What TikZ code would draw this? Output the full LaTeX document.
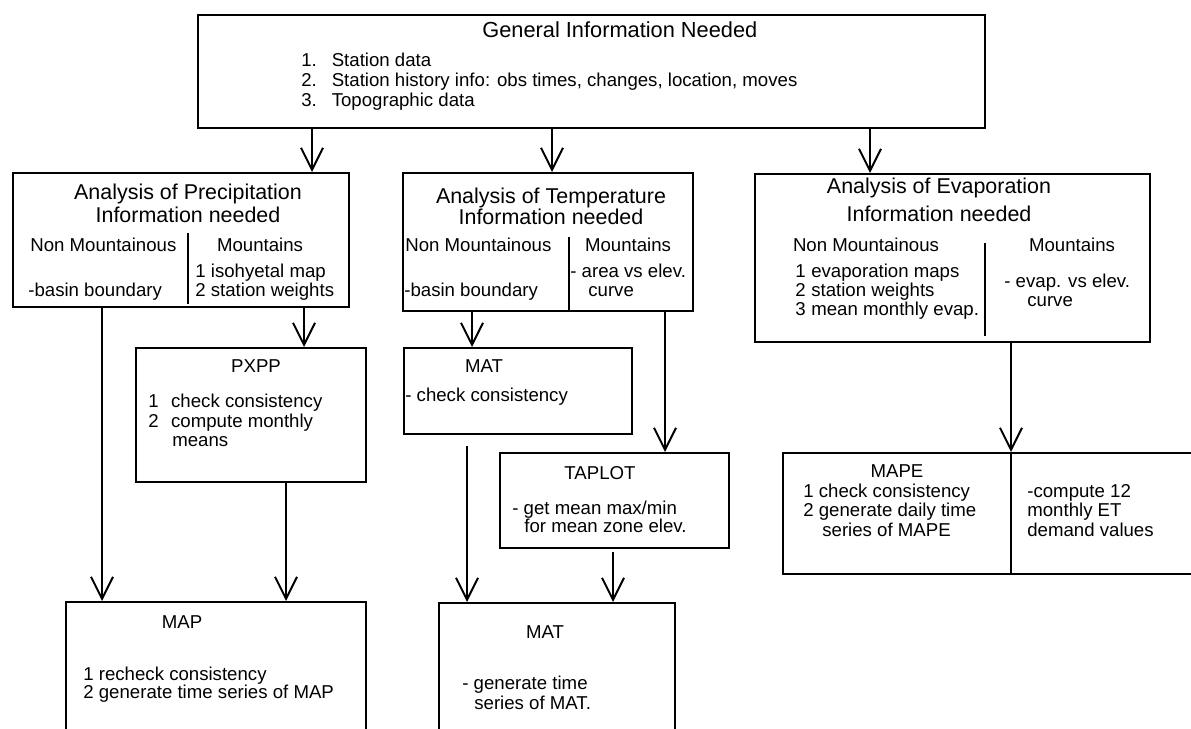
\documentclass[tikz,border=0pt]{standalone}
\usepackage{fontspec}
\setmainfont{Liberation Sans}
\usetikzlibrary{arrows.meta,positioning}
\tikzstyle{box}=[draw, line width=1pt, inner sep=0pt, anchor=north west]
\tikzstyle{txt}=[inner sep=0pt, anchor=base west, font=\fontsize{10.6}{12}\selectfont]
\tikzstyle{ttl}=[inner sep=0pt, anchor=base, font=\fontsize{12.2}{14}\selectfont]
\tikzstyle{arr}=[line width=1.1pt, -{Straight Barb[length=4.4mm,width=4.4mm]}]
\tikzstyle{divider}=[line width=0.6pt]
% box from (x1,y1) to (x2,y2), pixel units
\newcommand{\procbox}[5]{
	\node[box, minimum width={(#4-#2)*0.2mm}, minimum height={(#5-#3)*0.2mm}] (#1) at (#2,#3) {};
}

\begin{document}
\begin{tikzpicture}[x=0.2mm, y=-0.2mm]
	\clip (0,0) rectangle (1191,729);
	% boxes
	\procbox{gen}{197}{14}{984}{127}
	\procbox{prec}{12}{172}{348}{306}
	\procbox{temp}{402}{172}{692}{310}
	\procbox{evap}{754}{173}{1149}{341}
	\procbox{pxpp}{135}{347}{365}{481}
	\procbox{matA}{403}{347}{631}{433}
	\procbox{tap}{499}{452}{728}{547}
	\procbox{mape}{782}{452}{1200}{573}
	\procbox{map}{65}{601}{365}{740}
	\procbox{matB}{438}{602}{674}{740}
	% general information
	\node[ttl, anchor=base west, font=\fontsize{12.4}{14}\selectfont] (genT) at (482,38) {General Information Needed};
	\node[txt] (gen1) at (301,67) {1.\hspace{0.8em}Station data};
	\node[txt] (gen2) at (301,87) {2.\hspace{0.8em}Station history info: obs times, changes, location, moves};
	\node[txt] (gen3) at (301,107) {3.\hspace{0.8em}Topographic data};
	% precipitation
	\node[ttl] (precT) at (188,200) {Analysis of Precipitation};
	\node[ttl] (precI) at (188,223) {Information needed};
	\draw[divider] (188,233) -- (188,304);
	\node[txt] (precN) at (30,252) {Non Mountainous};
	\node[txt, anchor=base] (precM) at (260,252) {Mountains};
	\node[txt] (precM1) at (195,278) {1 isohyetal map};
	\node[txt] (precM2) at (195,297) {2 station weights};
	\node[txt] (precN1) at (28,297) {-basin boundary};
	% temperature
	\node[ttl] (tempT) at (551,204) {Analysis of Temperature};
	\node[ttl] (tempI) at (551,225) {Information needed};
	\draw[divider] (569,237) -- (569,310);
	\node[txt] (tempN) at (405,252) {Non Mountainous};
	\node[txt, anchor=base] (tempM) at (628,252) {Mountains};
	\node[txt] (tempM1) at (570,278) {- area vs elev.};
	\node[txt] (tempM2) at (588,297) {curve};
	\node[txt] (tempN1) at (404,297) {-basin boundary};
	% evaporation
	\node[ttl] (evapT) at (939,194) {Analysis of Evaporation};
	\node[ttl] (evapI) at (939,222) {Information needed};
	\draw[divider] (985,243) -- (985,336);
	\node[txt, anchor=base] (evapN) at (866,252) {Non Mountainous};
	\node[txt, anchor=base] (evapM) at (1072,252) {Mountains};
	\node[txt] (evapN1) at (795,278) {1\hspace{0.3em}evaporation maps};
	\node[txt] (evapN2) at (795,297) {2\hspace{0.3em}station weights};
	\node[txt] (evapN3) at (795,316) {3\hspace{0.3em}mean monthly evap.};
	\node[txt] (evapM1) at (1004,288) {- evap. vs elev.};
	\node[txt] (evapM2) at (1027,307) {curve};
	% PXPP
	\node[txt, anchor=base] (pxppT) at (256,373) {PXPP};
	\node[txt] (pxpp1) at (148,408) {1\hspace{0.67em}check consistency};
	\node[txt] (pxpp2) at (148,428) {2\hspace{0.67em}compute monthly};
	\node[txt] (pxpp3) at (172,447) {means};
	% MAT check
	\node[txt, anchor=base] (matAT) at (484,373) {MAT};
	\node[txt] (matA1) at (405,402) {- check consistency};
	% TAPLOT
	\node[txt, anchor=base] (tapT) at (600,480) {TAPLOT};
	\node[txt] (tap1) at (512,515) {- get mean max/min};
	\node[txt] (tap2) at (524,533) {for mean zone elev.};
	% MAPE
	\node[txt, anchor=base] (mapeT) at (897,478) {MAPE};
	\node[txt] (mape1) at (803,498) {1 check consistency};
	\node[txt] (mape2) at (803,517) {2 generate daily time};
	\node[txt] (mape3) at (822,537) {series of MAPE};
	\draw[divider] (1011,452) -- (1011,573);
	\node[txt] (mapeR1) at (1027,498) {-compute 12};
	\node[txt] (mapeR2) at (1027,517) {monthly ET};
	\node[txt] (mapeR3) at (1027,537) {demand values};
	% MAP
	\node[txt, anchor=base] (mapT) at (182,628) {MAP};
	\node[txt] (map1) at (83,680) {1 recheck consistency};
	\node[txt] (map2) at (83,698) {2 generate time series of MAP};
	% MAT series
	\node[txt, anchor=base] (matBT) at (545,638) {MAT};
	\node[txt] (matB1) at (462,689) {- generate time};
	\node[txt] (matB2) at (474,709) {series of MAT.};
	% arrows
	\coordinate (xP) at (312,0);
	\coordinate (xT) at (552,0);
	\coordinate (xE) at (870,0);
	\coordinate (xPN) at (102,0);
	\coordinate (xPM) at (304,0);
	\coordinate (xPX) at (286,0);
	\coordinate (xTN) at (472,0);
	\coordinate (xTM) at (665,0);
	\coordinate (xMA) at (467,0);
	\coordinate (xTP) at (613,0);
	\coordinate (xEV) at (1011,0);
	\draw[arr] (gen.south -| xP) -- (prec.north -| xP);
	\draw[arr] (gen.south -| xT) -- (temp.north -| xT);
	\draw[arr] (gen.south -| xE) -- (evap.north -| xE);
	\draw[arr] (prec.south -| xPN) -- (map.north -| xPN);
	\draw[arr] (prec.south -| xPM) -- (pxpp.north -| xPM);
	\draw[arr] (pxpp.south -| xPX) -- (map.north -| xPX);
	\draw[arr] (temp.south -| xTN) -- (matA.north -| xTN);
	\draw[arr] (temp.south -| xTM) -- (tap.north -| xTM);
	\draw[arr, shorten <=2.2mm] (matA.south -| xMA) -- (matB.north -| xMA);
	\draw[arr, shorten <=0.6mm] (tap.south -| xTP) -- (matB.north -| xTP);
	\draw[arr] (evap.south -| xEV) -- (mape.north -| xEV);
\end{tikzpicture}
\end{document}
